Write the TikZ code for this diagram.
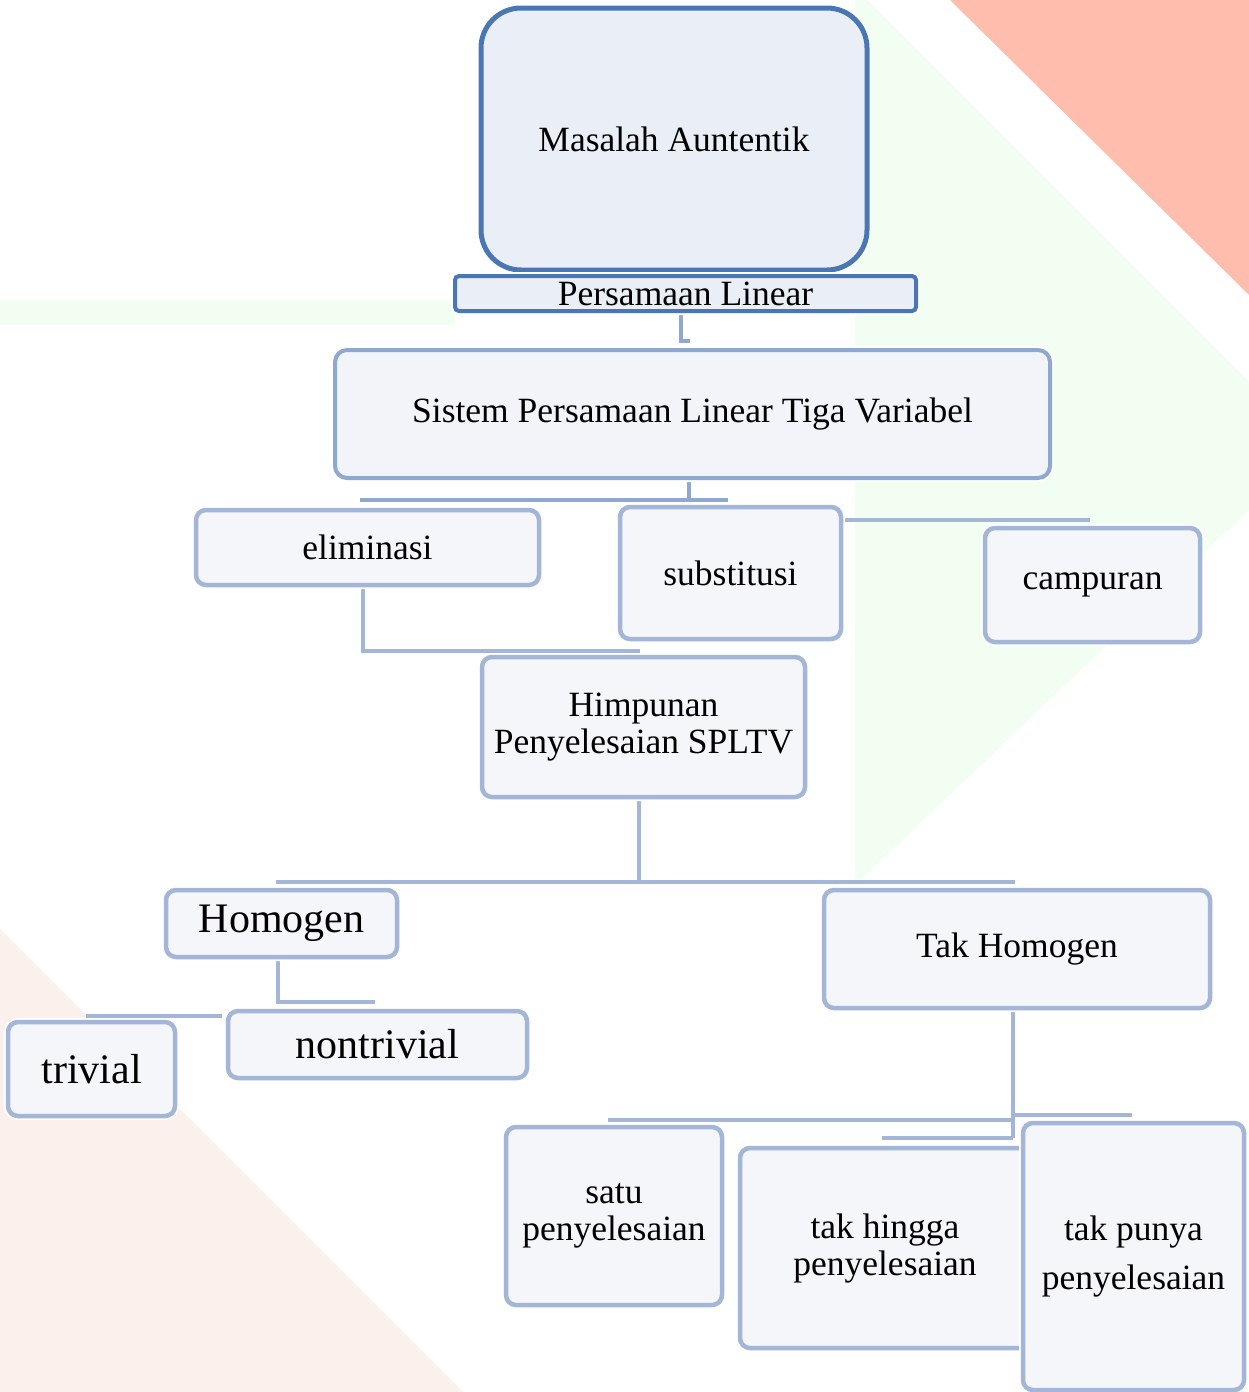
\documentclass[tikz,border=0pt]{standalone}
\usepackage{fontspec}
\setmainfont{Liberation Serif}
\definecolor{salmon}{HTML}{FFBEAD}
\definecolor{mint}{HTML}{F3FEF3}
\definecolor{blush}{HTML}{FCF0EC}
\definecolor{darkb}{HTML}{4A77B4}
\definecolor{midb}{HTML}{8EA8CF}
\definecolor{lightb}{HTML}{A3B6D7}
\definecolor{fillA}{HTML}{EAEEF7}
\definecolor{fillB}{HTML}{F2F4F9}
\definecolor{fillC}{HTML}{F5F6FA}
\tikzset{
  halo/.style={preaction={draw=white,line width=8pt}},
  basebox/.style={rectangle,halo,inner sep=0pt,align=center,text=black,
    font=\fontsize{35.5}{37}\selectfont},
  topbox/.style={basebox,draw=darkb,line width=5pt,fill=fillA,rounded corners=40pt},
  plbox/.style={basebox,draw=darkb,line width=4pt,fill=fillA,rounded corners=4pt},
  spbox/.style={basebox,draw=midb,line width=4pt,fill=fillB,rounded corners=12pt},
  lbox/.style={basebox,draw=lightb,line width=4.5pt,fill=fillC,rounded corners=10pt},
  bigtext/.style={font=\fontsize{42}{46}\selectfont},
  conn/.style={draw=lightb,line width=4.5pt},
  connd/.style={draw=midb,line width=4pt}
}
\begin{document}
\begin{tikzpicture}[x=1pt,y=-1pt]
% background
\fill[white] (0,0) rectangle (1249,1392);
\useasboundingbox (0,0) rectangle (1249,1392);
\fill[salmon] (950,0) -- (1249,0) -- (1249,295) -- cycle;
\fill[mint] (855,0) -- (867,0) -- (1249,382) -- (1249,510) -- (855,885) -- cycle;
\fill[mint] (0,300) rectangle (455,325);
\fill[blush] (0,929) -- (0,1392) -- (463,1392) -- cycle;

% named connector points
\coordinate (k0) at (681,311);
\coordinate (k1) at (690,341);
\coordinate (b1l) at (360,500);
\coordinate (b1r) at (728,500);
\coordinate (b1t) at (689,478);
\coordinate (b1b) at (689,500);
\coordinate (b2l) at (841,520);
\coordinate (b2r) at (1090,520);
\coordinate (b3t) at (363,585);
\coordinate (b3r) at (640,651);
\coordinate (b4t) at (639,797);
\coordinate (b4m) at (639,882);
\coordinate (b4l) at (276,882);
\coordinate (b4r) at (1015,882);
\coordinate (b5t) at (278,957);
\coordinate (b5r) at (375,1002);
\coordinate (b6l) at (86,1016);
\coordinate (b6r) at (222,1016);
\coordinate (b7t) at (1013,1008);
\coordinate (b7m) at (1013,1120);
\coordinate (b7n) at (1013,1115);
\coordinate (b7o) at (1013,1138);
\coordinate (b7a) at (608,1120);
\coordinate (b7b) at (1132,1115);
\coordinate (b7c) at (882,1138);

% connectors
\draw[connd] (k0) |- (k1);
\draw[connd] (b1l) -- (b1r);
\draw[connd] (b1t) -- (b1b);
\draw[conn] (b2l) -- (b2r);
\draw[conn] (b3t) |- (b3r);
\draw[conn] (b4l) -- (b4r);
\draw[conn] (b4t) -- (b4m);
\draw[conn] (b5t) |- (b5r);
\draw[conn] (b6l) -- (b6r);
\draw[conn] (b7t) -- (b7o);
\draw[conn] (b7a) -- (b7m);
\draw[conn] (b7n) -- (b7b);
\draw[conn] (b7c) -- (b7o);

% boxes
\node[topbox,minimum width=386pt,minimum height=262pt] (top) at (674,139) {Masalah Auntentik};
\node[plbox,minimum width=461pt,minimum height=35pt] (pl) at (685.5,293.5) {Persamaan Linear};
\node[spbox,minimum width=715pt,minimum height=128pt] (spltv) at (692.5,414) {Sistem Persamaan Linear Tiga Variabel};
\node[lbox,minimum width=343pt,minimum height=75pt] (elim) at (367.5,547.5) {eliminasi};
\node[lbox,minimum width=221pt,minimum height=132pt] (subst) at (730.5,573) {substitusi};
\node[lbox,minimum width=215pt,minimum height=114pt] (camp) at (1092.5,585) {campuran};
\node[lbox,minimum width=323pt,minimum height=140pt] (himp) at (643.5,727) {Himpunan\\Penyelesaian SPLTV};
\node[lbox,bigtext,minimum width=231pt,minimum height=67pt] (homo) at (281.5,923.5) {Homogen};
\node[lbox,minimum width=386pt,minimum height=118pt] (takh) at (1017,949) {Tak Homogen};
\node[lbox,bigtext,minimum width=299pt,minimum height=67pt] (nontriv) at (377.5,1044.5) {nontrivial};
\node[lbox,bigtext,minimum width=167pt,minimum height=94pt] (triv) at (91.5,1069) {trivial};
\node[lbox,minimum width=216pt,minimum height=178pt] (satu) at (614,1216) {satu\\penyelesaian};
\node[lbox,minimum width=290pt,minimum height=200pt] (hingga) at (885,1248) {tak hingga\\penyelesaian};
\node[lbox,minimum width=221pt,minimum height=267pt,font=\fontsize{35.5}{49}\selectfont] (punya) at (1133.5,1256.5) {tak punya\\penyelesaian};
\end{tikzpicture}
\end{document}
